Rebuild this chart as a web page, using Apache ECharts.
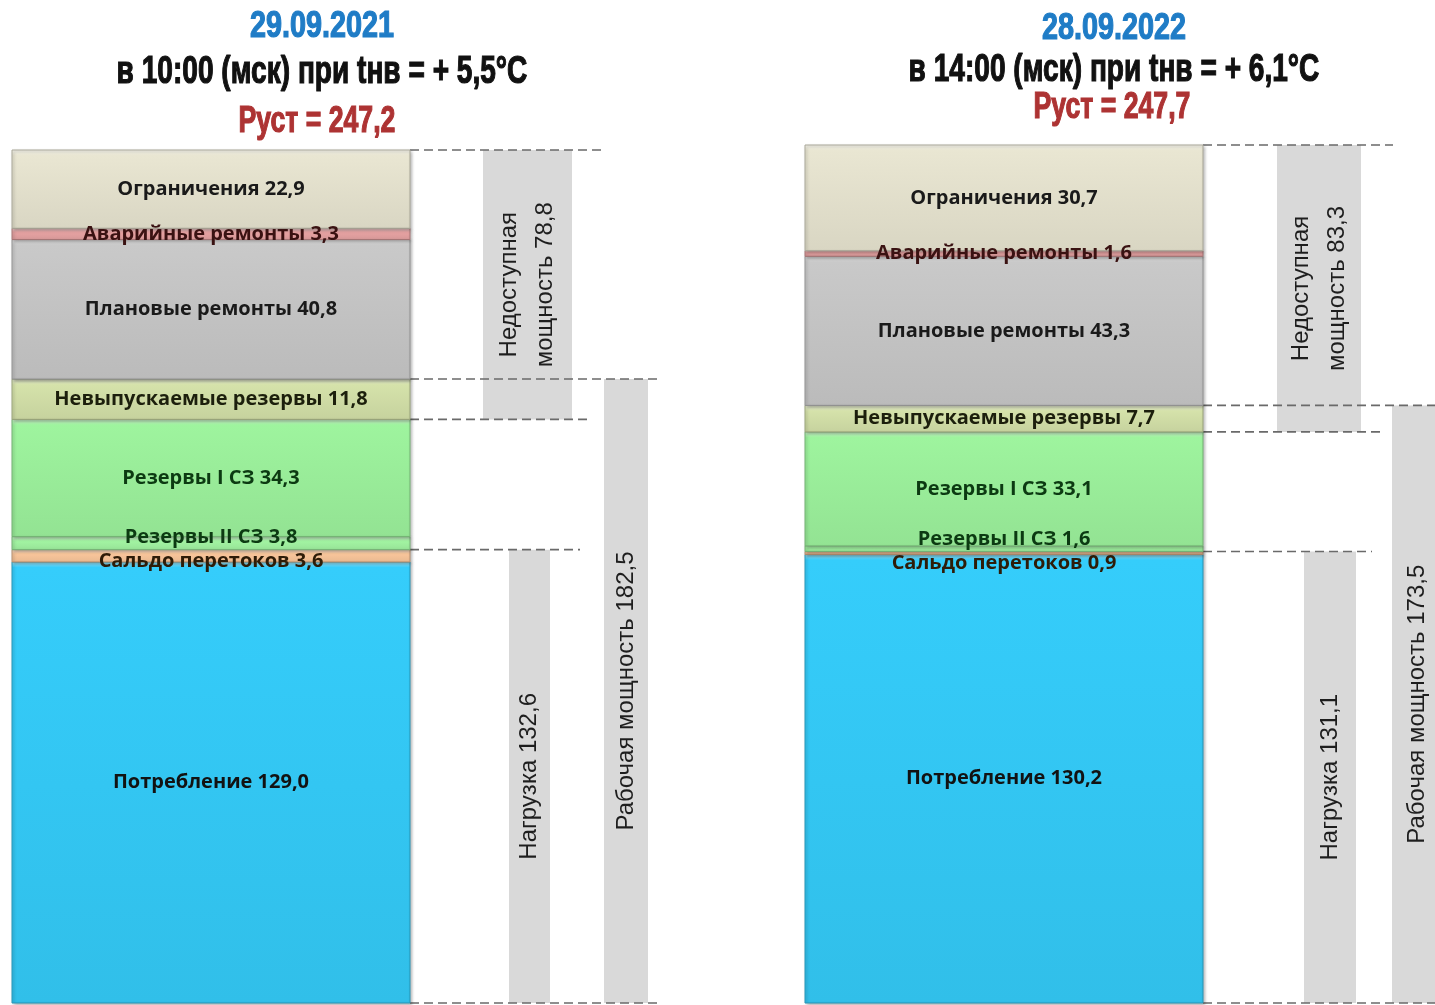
<!DOCTYPE html>
<html>
<head>
<meta charset="utf-8">
<script src="https://cdn.jsdelivr.net/npm/echarts@6/dist/echarts.min.js"></script>
<style>
  html, body { margin: 0; padding: 0; background: #ffffff; }
  #chart { width: 1435px; height: 1005px; }
</style>
</head>
<body>
<div id="chart"></div>
<script>
// Balance of installed capacity, segments listed bottom to top
const segmentNames = ['Потребление', 'Сальдо перетоков', 'Резервы II СЗ', 'Резервы I СЗ',
  'Невыпускаемые резервы', 'Плановые ремонты', 'Аварийные ремонты', 'Ограничения'];
const values2021 = [129.0, 3.6, 3.8, 34.3, 11.8, 40.8, 3.3, 22.9];
const values2022 = [130.2, 0.9, 1.6, 33.1, 7.7, 43.3, 1.6, 30.7];

// Brackets beside each column: unavailable, working capacity, load
const summaryNames = ['Недоступная\nмощность', 'Рабочая мощность', 'Нагрузка'];
const summary2021 = [78.8, 182.5, 132.6];
const summary2022 = [83.3, 173.5, 131.1];

// Headings
const dates = ['29.09.2021', '28.09.2022'];
const conditions = ['в 10:00 (мск) при tнв = + 5,5°C', 'в 14:00 (мск) при tнв = + 6,1°C'];
const installedCapacity = [247.2, 247.7];

// ---- styles ----
const segmentColors = ['#35cdfb', '#f9c69b', '#a2f4a2', '#9ef49e', '#d5e2aa', '#c9c9c9', '#e7a3a3', '#e9e6d2'];
const segmentTextColors = ['#121212', '#2e1c08', '#0c3a12', '#0c3a12', '#1c1f0c', '#1a1a1a', '#3a1212', '#1a1a1a'];
const SEGMENT_FONT = 'bold 20px "Open Sans"';
const SUMMARY_FONT = '24px "Liberation Sans"';

// Panel geometry (pixels relative to each panel's left edge)
const layouts = [
  { left: 0, width: 700, top: 150, column: [12, 410],
    bars: [[483, 572], [604, 648], [509, 550]],
    dashEnds: [605, 662, 590, 580, 662],
    titleX: [322, 322, 317], titleY: [27, 72, 122] },
  { left: 790, width: 645, top: 145, column: [15, 413],
    bars: [[487, 571], [602, 652], [514, 566]],
    dashEnds: [603, 652, 595, 582, 652],
    titleX: [1114, 1114, 1112], titleY: [29, 70, 108] }
];

const fmt = v => v.toFixed(1).replace('.', ',');
const total = arr => arr.reduce((a, b) => a + b, 0);

function mix(hex, target, t) {
  const a = parseInt(hex.slice(1), 16), b = parseInt(target.slice(1), 16);
  const ch = s => [(s >> 16) & 255, (s >> 8) & 255, s & 255];
  const ca = ch(a), cb = ch(b);
  const r = ca.map((v, k) => Math.round(v + (cb[k] - v) * t));
  return 'rgb(' + r.join(',') + ')';
}

// Cumulative [low, high, index] for each stacked segment
function stackRanges(values) {
  let acc = 0;
  return values.map((v, i) => { const lo = acc; acc += v; return [lo, acc, i]; });
}

// Vertical label centres; thin neighbouring bands get their labels spread apart
function labelCentres(api, values, minGap) {
  let acc = 0;
  const c = values.map(v => { const mid = acc + v / 2; acc += v; return api.coord([0, mid])[1]; });
  const order = c.map((y, i) => i).sort((m, n) => c[m] - c[n]);
  for (let iter = 0; iter < 30; iter++) {
    for (let k = 0; k < order.length - 1; k++) {
      const u = order[k], d = order[k + 1];
      const over = minGap - (c[d] - c[u]);
      if (over > 0) { c[u] -= over / 2; c[d] += over / 2; }
    }
  }
  return c;
}

function segmentRenderer(L, values) {
  return function (params, api) {
    const lo = api.value(0), hi = api.value(1), i = api.value(2);
    const a = api.coord([L.column[0], hi]);
    const b = api.coord([L.column[1], lo]);
    const h = Math.max(1, b[1] - a[1]);
    const base = segmentColors[i];
    const edge = Math.min(0.35, 6 / h);
    const centres = labelCentres(api, values, 24);
    return {
      type: 'group',
      children: [
        {
          type: 'rect', z2: 1,
          shape: { x: a[0], y: a[1], width: b[0] - a[0], height: h },
          style: {
            fill: { type: 'linear', x: 0, y: 0, x2: 0, y2: 1, colorStops: [
              { offset: 0, color: mix(base, '#ffffff', 0.6) },
              { offset: edge, color: base },
              { offset: 1, color: mix(base, '#000000', 0.07) }
            ] },
            stroke: mix(base, '#000000', 0.28), lineWidth: 1,
            shadowBlur: 3, shadowOffsetX: 1.5, shadowOffsetY: 1.5, shadowColor: 'rgba(0,0,0,0.25)'
          }
        },
        {
          type: 'text', z2: 10,
          x: (a[0] + b[0]) / 2, y: centres[i],
          style: {
            text: segmentNames[i] + ' ' + fmt(values[i]),
            fill: segmentTextColors[i], font: SEGMENT_FONT,
            align: 'center', verticalAlign: 'middle'
          }
        }
      ]
    };
  };
}

function summaryRenderer(L, summary) {
  return function (params, api) {
    const lo = api.value(0), hi = api.value(1), k = api.value(2);
    const a = api.coord([L.bars[k][0], hi]);
    const b = api.coord([L.bars[k][1], lo]);
    return {
      type: 'group',
      children: [
        { type: 'rect', shape: { x: a[0], y: a[1], width: b[0] - a[0], height: b[1] - a[1] },
          style: { fill: '#d9d9d9' } },
        { type: 'text', x: (a[0] + b[0]) / 2, y: (a[1] + b[1]) / 2, rotation: Math.PI / 2,
          style: { text: summaryNames[k] + ' ' + fmt(summary[k]), fill: '#1e1e1e',
            font: SUMMARY_FONT, align: 'center', verticalAlign: 'middle', lineHeight: 36 } }
      ]
    };
  };
}

function dashRenderer(L) {
  return function (params, api) {
    const yv = api.value(0), k = api.value(1);
    const a = api.coord([L.column[1], yv]);
    const b = api.coord([L.dashEnds[k], yv]);
    return {
      type: 'line',
      shape: { x1: a[0], y1: a[1], x2: b[0], y2: b[1] },
      style: { stroke: '#6a6a6a', lineWidth: 1.6, lineDash: [9, 5] }
    };
  };
}

const panels = [
  { values: values2021, summary: summary2021 },
  { values: values2022, summary: summary2022 }
];

const grid = [], xAxis = [], yAxis = [], series = [], graphic = [];

panels.forEach((p, n) => {
  const L = layouts[n];
  const sum = total(p.values);
  const unavailable = p.summary[0], working = p.summary[1], load = p.summary[2];

  grid.push({ left: L.left, top: L.top, width: L.width, bottom: 2 });
  xAxis.push({ type: 'value', gridIndex: n, min: 0, max: L.width, show: false });
  yAxis.push({ type: 'value', gridIndex: n, min: 0, max: sum, show: false });

  series.push({
    type: 'custom', xAxisIndex: n, yAxisIndex: n, z: 1, silent: true,
    renderItem: summaryRenderer(L, p.summary),
    data: [[sum - unavailable, sum, 0], [0, working, 1], [0, load, 2]]
  });
  series.push({
    type: 'custom', xAxisIndex: n, yAxisIndex: n, z: 2, silent: true,
    renderItem: dashRenderer(L),
    data: [[sum, 0], [working, 1], [sum - unavailable, 2], [load, 3], [0, 4]]
  });
  series.push({
    type: 'custom', xAxisIndex: n, yAxisIndex: n, z: 3, silent: true,
    renderItem: segmentRenderer(L, p.values),
    data: stackRanges(p.values)
  });

  const heading = [
    { text: dates[n], fill: '#1f7cc6', size: 36, sx: 0.8 },
    { text: conditions[n], fill: '#111111', size: 39, sx: 0.72 },
    { text: 'Руст = ' + fmt(installedCapacity[n]), fill: '#ad3333', size: 36, sx: 0.74 }
  ];
  heading.forEach((h, j) => {
    graphic.push({
      type: 'text', x: L.titleX[j], y: L.titleY[j], scaleX: h.sx, silent: true,
      style: { text: h.text, fill: h.fill, stroke: h.fill, lineWidth: 1.2,
        font: 'bold ' + h.size + 'px "Liberation Sans"', align: 'center', verticalAlign: 'middle' }
    });
  });
});

const chart = echarts.init(document.getElementById('chart'));
chart.setOption({
  animation: false,
  backgroundColor: '#ffffff',
  grid, xAxis, yAxis, series, graphic
});
</script>
</body>
</html>
